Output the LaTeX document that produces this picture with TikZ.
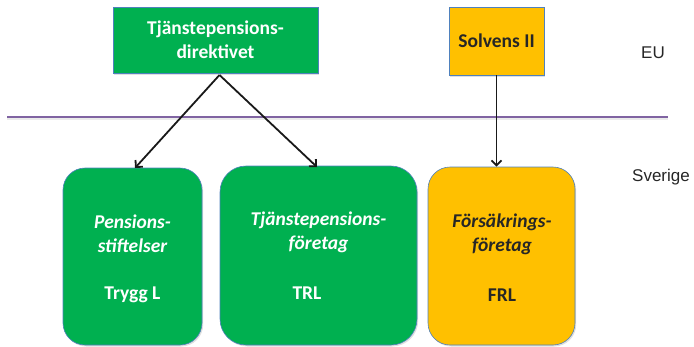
\documentclass[tikz,border=0pt]{standalone}
\usepackage{fontspec}
\setmainfont{Carlito}
\newfontfamily\arialf{Liberation Sans}
\usetikzlibrary{arrows.meta,shadows}
\definecolor{boxgreen}{RGB}{0,176,80}
\definecolor{boxyellow}{RGB}{255,192,0}
\definecolor{boxborder}{RGB}{79,129,189}
\definecolor{divline}{RGB}{128,100,162}
\definecolor{darktext}{RGB}{38,38,38}
\definecolor{labeltext}{RGB}{38,38,38}
\tikzset{
  box/.style={draw=boxborder, line width=0.6pt, inner sep=0pt,
    drop shadow={shadow xshift=1.2pt, shadow yshift=-1.5pt, opacity=0.25}},
  topbox/.style={box, rectangle},
  lowbox/.style={box, rectangle, rounded corners=22pt},
  btxt/.style={font=\fontsize{19.5}{24}\selectfont\bfseries, align=center, inner sep=0pt},
  itxt/.style={font=\fontsize{19.5}{24}\selectfont\bfseries\itshape, align=center, inner sep=0pt},
  lbl/.style={font=\arialf\fontsize{17}{20}\selectfont, text=labeltext, inner sep=0pt},
  arr/.style={line width=1.8pt, draw=black!90, -{Straight Barb[length=5pt,width=10pt,line width=1.8pt]}}
}
\begin{document}
\begin{tikzpicture}[x=1pt,y=1pt]
\useasboundingbox (0,0) rectangle (694,-346);
% top boxes
\node[topbox, fill=boxgreen, minimum width=205pt, minimum height=66pt] (tpd) at (215.5,-40) {};
\node[btxt, text=white] (tpdt) at (tpd.center) {Tjänstepensions-\\direktivet};
\node[topbox, fill=boxyellow, minimum width=95pt, minimum height=68pt] (sol) at (496.5,-41) {};
\node[btxt, text=darktext] (solt) at (sol.center) {Solvens II};
% divider
\coordinate (dl) at (7,-117);
\coordinate (dr) at (668,-117);
\draw[black!8, line width=1.5pt] ([yshift=-2.2pt]dl) -- ([yshift=-2.2pt]dr);
\draw[divline, line width=1.6pt] (dl) -- (dr);
% labels
\node[lbl] (eu) at (653,-53) {EU};
\node[lbl] (sv) at (661,-177) {Sverige};
% lower boxes
\node[lowbox, fill=boxgreen, minimum width=139pt, minimum height=177pt] (b1) at (132.5,-256.5) {};
\node[lowbox, fill=boxgreen, minimum width=197pt, minimum height=179pt, rounded corners=26pt] (b2) at (318.5,-255.5) {};
\node[lowbox, fill=boxyellow, minimum width=147pt, minimum height=178pt] (b3) at (501.5,-256) {};
% texts
\node[itxt, text=white] (b1a) at (132.5,-234) {Pensions-\\stiftelser};
\node[btxt, text=white] (b1b) at (132.5,-295) {Trygg L};
\node[itxt, text=white] (b2a) at (318.5,-232) {Tjänstepensions-\\företag};
\node[btxt, text=white] (b2b) at (307,-293) {TRL};
\node[itxt, text=darktext] (b3a) at (502,-234) {Försäkrings-\\företag};
\node[btxt, text=darktext] (b3b) at (502,-295) {FRL};
% arrows
\coordinate (apex) at (219.5,-75);
\coordinate (e1) at (135,-168);
\coordinate (e2) at (317,-167);
\draw[arr] (apex) -- (e1);
\draw[arr] (apex) -- (e2);
\draw[arr] (sol.south) -- (sol.south |- b3.north);
\end{tikzpicture}
\end{document}
